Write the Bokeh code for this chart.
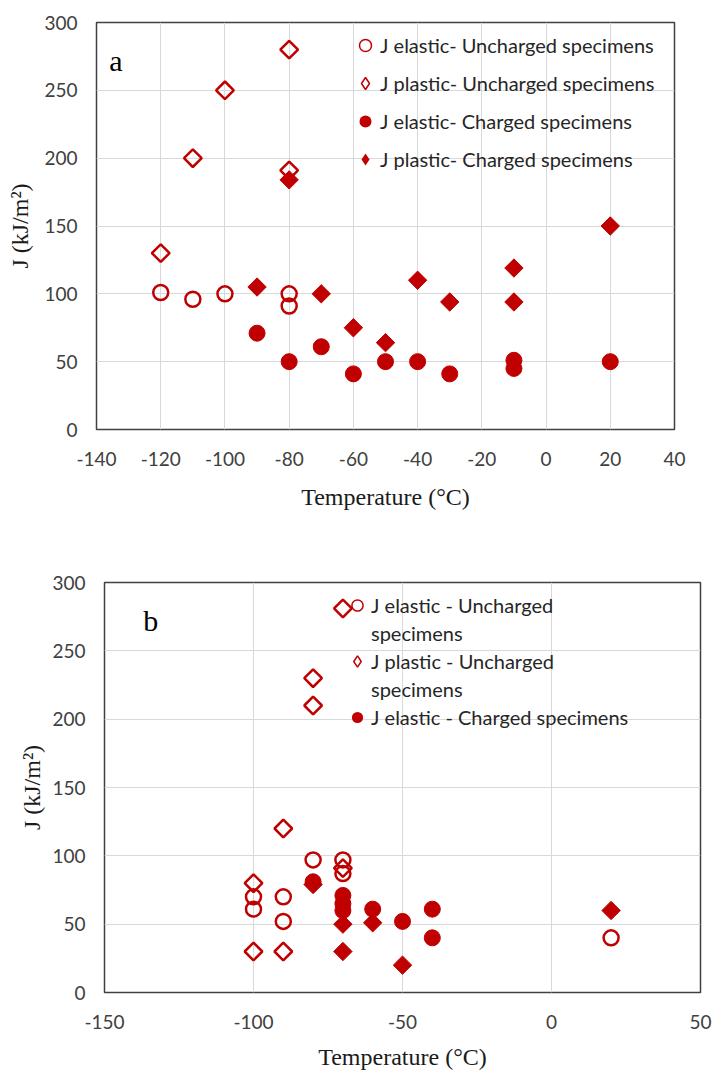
import numpy as np
from bokeh.plotting import figure
from bokeh.layouts import column, row
from bokeh.models import Range1d, FixedTicker, Legend, LegendItem, Label, Spacer
from bokeh.embed import file_html
from bokeh.resources import INLINE

RED = "#C00000"

# ---------------- Panel a data ----------------
a_el_unch_x = [-120, -110, -100, -80, -80]
a_el_unch_y = [101, 96, 100, 100, 91]
a_pl_unch_x = [-120, -110, -100, -80, -80]
a_pl_unch_y = [130, 200, 250, 280, 191]
a_el_ch_x = [-90, -80, -70, -60, -50, -40, -30, -10, -10, 20]
a_el_ch_y = [71, 50, 61, 41, 50, 50, 41, 51, 45, 50]
a_pl_ch_x = [-90, -80, -70, -60, -50, -40, -30, -10, -10, 20]
a_pl_ch_y = [105, 184, 100, 75, 64, 110, 94, 119, 94, 150]

# ---------------- Panel b data ----------------
b_el_unch_x = [-100, -100, -90, -90, -80, -70, -70, 20]
b_el_unch_y = [70, 61, 70, 52, 97, 97, 87, 40]
b_pl_unch_x = [-100, -100, -90, -90, -80, -80, -70, -70]
b_pl_unch_y = [80, 30, 120, 30, 230, 210, 281, 91]
b_el_ch_x = [-80, -70, -70, -70, -60, -50, -40, -40]
b_el_ch_y = [81, 71, 65, 60, 61, 52, 61, 40]
b_pl_ch_x = [-80, -70, -70, -60, -50, 20]
b_pl_ch_y = [79, 50, 30, 51, 20, 60]

a_xticks = [-140, -120, -100, -80, -60, -40, -20, 0, 20, 40]
b_xticks = [-150, -100, -50, 0, 50]
yticks = [0, 50, 100, 150, 200, 250, 300]

TICK_FONT = "Lato"
TITLE_FONT = "Liberation Serif"
DIAMOND_ANGLE = np.pi / 4


def style(p, xticks):
    p.xaxis.ticker = FixedTicker(ticks=xticks)
    p.yaxis.ticker = FixedTicker(ticks=yticks)
    p.xaxis.major_label_overrides = {t: str(t) for t in xticks}
    p.yaxis.major_label_overrides = {t: str(t) for t in yticks}
    for ax in (p.xaxis[0], p.yaxis[0]):
        ax.major_tick_out = 0
        ax.major_tick_in = 0
        ax.minor_tick_out = 0
        ax.minor_tick_in = 0
        ax.axis_line_color = None
        ax.major_label_text_font = TICK_FONT
        ax.major_label_text_font_size = "19px"
        ax.major_label_text_color = "#404040"
        ax.axis_label_text_font = TITLE_FONT
        ax.axis_label_text_font_size = "24px"
        ax.axis_label_text_font_style = "normal"
        ax.axis_label_text_color = "#1a1a1a"
    p.xgrid.grid_line_color = "#D9D9D9"
    p.ygrid.grid_line_color = "#D9D9D9"
    p.outline_line_color = "#404040"
    p.outline_line_width = 1.5
    p.background_fill_color = "white"
    p.border_fill_color = "white"


def legend_glyphs(p, xs, ys):
    """Zero-size copies of each series: invisible on the plot, but they give the
    legend thin circles and upright diamonds like the original legend."""
    g1 = p.scatter(xs[0], ys[0], marker="circle", size=0, fill_color=None,
                   line_color=RED, line_width=1.5)
    g2 = p.scatter(xs[1], ys[1], marker="diamond", size=0, fill_color=None,
                   line_color=RED, line_width=1.5)
    g3 = p.scatter(xs[2], ys[2], marker="circle", size=0, fill_color=RED, line_color=None)
    g4 = p.scatter(xs[3], ys[3], marker="diamond", size=0, fill_color=RED, line_color=None)
    return g1, g2, g3, g4


# ---------------- Figure a ----------------
pa = figure(frame_width=578, frame_height=407, output_backend="svg", toolbar_location=None,
            x_range=Range1d(-140, 40), y_range=Range1d(0, 300),
            min_border_left=96, min_border_right=39, min_border_top=22, min_border_bottom=101)
style(pa, a_xticks)
pa.xaxis.axis_label = "Temperature (°C)"
pa.yaxis.axis_label = "J (kJ/m²)"
pa.xaxis.major_label_standoff = 22
pa.xaxis.axis_label_standoff = 15
pa.yaxis.major_label_standoff = 19
pa.yaxis.axis_label_standoff = 8

pa.scatter(a_el_unch_x, a_el_unch_y, marker="circle", size=15, fill_color=None,
           line_color=RED, line_width=2.5)
pa.scatter(a_pl_unch_x, a_pl_unch_y, marker="square", angle=DIAMOND_ANGLE, size=12.5,
           fill_color=None, line_color=RED, line_width=2.5)
pa.scatter(a_el_ch_x, a_el_ch_y, marker="circle", size=16, fill_color=RED, line_color=RED)
pa.scatter(a_pl_ch_x, a_pl_ch_y, marker="square", angle=DIAMOND_ANGLE, size=13,
           fill_color=RED, line_color=RED)
ga1, ga2, ga3, ga4 = legend_glyphs(
    pa, [a_el_unch_x, a_pl_unch_x, a_el_ch_x, a_pl_ch_x],
    [a_el_unch_y, a_pl_unch_y, a_el_ch_y, a_pl_ch_y])

leg_a = Legend(items=[
    LegendItem(label="J elastic- Uncharged specimens", renderers=[ga1]),
    LegendItem(label="J plastic- Uncharged specimens", renderers=[ga2]),
    LegendItem(label="J elastic- Charged specimens", renderers=[ga3]),
    LegendItem(label="J plastic- Charged specimens", renderers=[ga4]),
], location=(254, 251), orientation="vertical", padding=0, margin=0, spacing=0,
    glyph_width=30, glyph_height=38, label_height=38, label_standoff=0,
    label_text_font=TICK_FONT, label_text_font_size="20px", label_text_color="#262626",
    border_line_color=None, background_fill_alpha=0)
pa.add_layout(leg_a, "center")

pa.add_layout(Label(x=-136, y=272, text="a", text_font=TITLE_FONT, text_font_size="30px",
                    text_baseline="middle", text_color="black"))

# ---------------- Figure b ----------------
pb = figure(frame_width=596, frame_height=410, output_backend="svg", toolbar_location=None,
            x_range=Range1d(-150, 50), y_range=Range1d(0, 300),
            min_border_left=96, min_border_right=13, min_border_top=52, min_border_bottom=79)
style(pb, b_xticks)
pb.xaxis.axis_label = "Temperature (°C)"
pb.yaxis.axis_label = "J (kJ/m²)"
pb.xaxis.major_label_standoff = 22
pb.xaxis.axis_label_standoff = 12
pb.yaxis.major_label_standoff = 19
pb.yaxis.axis_label_standoff = 4

pb.scatter(b_el_unch_x, b_el_unch_y, marker="circle", size=15, fill_color=None,
           line_color=RED, line_width=2.5)
pb.scatter(b_pl_unch_x, b_pl_unch_y, marker="square", angle=DIAMOND_ANGLE, size=12.5,
           fill_color=None, line_color=RED, line_width=2.5)
pb.scatter(b_el_ch_x, b_el_ch_y, marker="circle", size=16, fill_color=RED, line_color=RED)
pb.scatter(b_pl_ch_x, b_pl_ch_y, marker="square", angle=DIAMOND_ANGLE, size=13,
           fill_color=RED, line_color=RED)
gb1, gb2, gb3, gb4 = legend_glyphs(
    pb, [b_el_unch_x, b_pl_unch_x, b_el_ch_x, b_pl_ch_x],
    [b_el_unch_y, b_pl_unch_y, b_el_ch_y, b_pl_ch_y])
blank = pb.scatter(x=[], y=[], marker="circle", fill_alpha=0, line_alpha=0)

leg_b = Legend(items=[
    LegendItem(label="J elastic - Uncharged", renderers=[gb1]),
    LegendItem(label="specimens", renderers=[blank]),
    LegendItem(label="J plastic - Uncharged", renderers=[gb2]),
    LegendItem(label="specimens", renderers=[blank]),
    LegendItem(label="J elastic - Charged specimens", renderers=[gb3]),
], location=(239, 261), orientation="vertical", padding=0, margin=0, spacing=0,
    glyph_width=28, glyph_height=28, label_height=28, label_standoff=0,
    label_text_font=TICK_FONT, label_text_font_size="20px", label_text_color="#262626",
    border_line_color=None, background_fill_alpha=0)
pb.add_layout(leg_b, "center")

pb.add_layout(Label(x=-137, y=272, text="b", text_font=TITLE_FONT, text_font_size="30px",
                    text_baseline="middle", text_color="black"))

layout = column(pa, row(Spacer(width=8, height=541), pb, spacing=0), spacing=0)
open("out.html", "w").write(file_html(layout, INLINE))
